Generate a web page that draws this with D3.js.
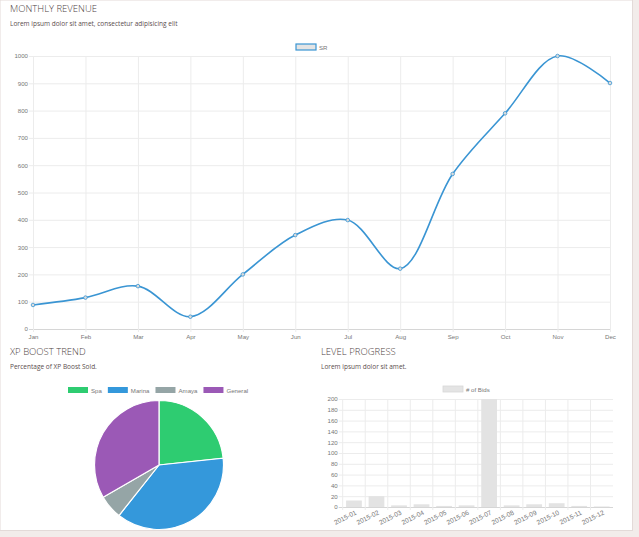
<!DOCTYPE html>
<html>
<head>
<meta charset="utf-8">
<script src="https://cdn.jsdelivr.net/npm/d3@7"></script>
<style>
  html, body { margin: 0; padding: 0; background: #f2ecea; }
  svg { display: block; }
  .title { font-family: 'Open Sans', sans-serif; font-weight: 300; font-size: 9.5px; fill: #4f4343; }
  .sub { font-family: 'Open Sans', sans-serif; font-size: 6.5px; fill: #5a4d4d; }
  .tick text, .lbl { font-family: 'Liberation Sans', Arial, sans-serif; font-size: 6.1px; fill: #777; }
  .rot { font-size: 6.6px; }
</style>
</head>
<body>
<svg id="chart" width="639" height="537"></svg>
<script>
'use strict';

// monthly revenue line
var months = ['Jan','Feb','Mar','Apr','May','Jun','Jul','Aug','Sep','Oct','Nov','Dec'];
var revenue = [88, 115, 157, 45, 200, 344, 399, 221, 568, 790, 1000, 901];
var revenueTicks = [0,100,200,300,400,500,600,700,800,900,1000];

// xp boost pie
var boostNames = ['Spa', 'Marina', 'Amaya', 'General'];
var boostValues = [35, 56, 9, 50];
var boostColors = ['#2ecc71', '#3498db', '#95a5a6', '#9b59b6'];

// level progress bars
var bidMonths = ['2015-01','2015-02','2015-03','2015-04','2015-05','2015-06',
  '2015-07','2015-08','2015-09','2015-10','2015-11','2015-12'];
var bids = [12, 20, 3, 5, 2, 3, 200, 3, 5, 7, 2, 1];
var bidTicks = [0,20,40,60,80,100,120,140,160,180,200];

var svg = d3.select('#chart');
svg.append('rect')
  .attr('x', 0).attr('y', 0)
  .attr('width', 632.5).attr('height', 530.5)
  .attr('fill', '#fff')
  .attr('stroke', '#e3dad8');

function heading(x, y, title, sub) {
  svg.append('text').attr('class', 'title').attr('x', x).attr('y', y).text(title);
  svg.append('text').attr('class', 'sub').attr('x', x).attr('y', y + 14).text(sub);
}

function styleAxis(g) {
  g.select('.domain').remove();
  g.selectAll('.tick line').attr('stroke', '#ececec');
}

// ---- line chart
heading(10, 12, 'MONTHLY REVENUE', 'Lorem ipsum dolor sit amet, consectetur adipisicing elit');

var lx = d3.scalePoint().domain(months).range([33, 610]);
var ly = d3.scaleLinear().domain([0, 1000]).range([329, 56]);

svg.append('g')
  .attr('transform', 'translate(33,0)')
  .call(d3.axisLeft(ly).tickValues(revenueTicks).tickFormat(d3.format('d')).tickSize(-577).tickPadding(5))
  .call(styleAxis)
  .call(g => g.selectAll('.tick line').attr('x1', -4))
  .call(g => g.selectAll('.tick').filter(d => d === 0).select('line').attr('stroke', '#d6d6d6'));

svg.append('g')
  .attr('transform', 'translate(0,329)')
  .call(d3.axisBottom(lx).tickSize(-273).tickPadding(6))
  .call(styleAxis)
  .call(g => g.selectAll('.tick line').attr('y1', 3));

svg.append('path')
  .datum(revenue)
  .attr('fill', 'none')
  .attr('stroke', '#3a95d3')
  .attr('stroke-width', 1.6)
  .attr('d', d3.line()
    .x((d, i) => lx(months[i]))
    .y(d => ly(d))
    .curve(d3.curveCatmullRom.alpha(0.5)));

svg.append('g').selectAll('circle')
  .data(revenue)
  .join('circle')
    .attr('cx', (d, i) => lx(months[i]))
    .attr('cy', d => ly(d))
    .attr('r', 1.8)
    .attr('fill', '#dcdcdc')
    .attr('stroke', '#3a95d3')
    .attr('stroke-width', 0.8);

var lineLegend = svg.append('g').attr('transform', 'translate(296,44)');
lineLegend.append('rect')
  .attr('width', 20).attr('height', 6)
  .attr('fill', '#e4e4e4').attr('stroke', '#3a95d3').attr('stroke-width', 1.2);
lineLegend.append('text').attr('class', 'lbl').attr('x', 23).attr('y', 5.5).text('SR');

// ---- pie chart
heading(10, 355, 'XP BOOST TREND', 'Percentage of XP Boost Sold.');

var pieLegend = svg.append('g').attr('transform', 'translate(68,387)');
var legX = 0;
boostNames.forEach(function(name, i) {
  var item = pieLegend.append('g').attr('transform', 'translate(' + legX + ',0)');
  item.append('rect').attr('width', 20).attr('height', 6).attr('fill', boostColors[i]);
  var t = item.append('text').attr('class', 'lbl').attr('x', 23).attr('y', 5.5).text(name);
  legX += 23 + t.node().getComputedTextLength() + 6;
});

var arcs = d3.pie().sort(null)(boostValues);
var arc = d3.arc().innerRadius(0).outerRadius(64.5);
svg.append('g')
  .attr('transform', 'translate(159,465)')
  .selectAll('path')
  .data(arcs)
  .join('path')
    .attr('d', arc)
    .attr('fill', (d, i) => boostColors[i])
    .attr('stroke', '#fff')
    .attr('stroke-width', 1.2);

// ---- bar chart
heading(321, 355, 'LEVEL PROGRESS', 'Lorem ipsum dolor sit amet.');

var bx = d3.scaleBand().domain(bidMonths).range([342.7, 613]);
var by = d3.scaleLinear().domain([0, 200]).range([507, 399]);

svg.append('g')
  .attr('transform', 'translate(342.7,0)')
  .call(d3.axisLeft(by).tickValues(bidTicks).tickSize(-270.3).tickPadding(5))
  .call(styleAxis)
  .call(g => g.selectAll('.tick line').attr('x1', -4))
  .call(g => g.selectAll('.tick').filter(d => d === 0).select('line').attr('stroke', '#d6d6d6'));

// vertical grid at band edges
svg.append('g').selectAll('line')
  .data(bidMonths)
  .join('line')
    .attr('x1', d => bx(d)).attr('x2', d => bx(d))
    .attr('y1', 399).attr('y2', 510)
    .attr('stroke', '#ececec');

svg.append('g').selectAll('rect')
  .data(bids)
  .join('rect')
    .attr('x', (d, i) => bx(bidMonths[i]) + bx.bandwidth() * 0.15)
    .attr('width', bx.bandwidth() * 0.7)
    .attr('y', d => by(d))
    .attr('height', d => by(0) - by(d))
    .attr('fill', '#e3e3e3');

svg.append('g').selectAll('text')
  .data(bidMonths)
  .join('text')
    .attr('class', 'lbl rot')
    .attr('text-anchor', 'end')
    .attr('transform', d => 'translate(' + (bx(d) + bx.bandwidth() / 2 + 3) + ',514) rotate(-27)')
    .text(d => d);

var barLegend = svg.append('g').attr('transform', 'translate(443,386)');
barLegend.append('rect')
  .attr('width', 20).attr('height', 6)
  .attr('fill', '#e4e4e4').attr('stroke', '#d8d8d8').attr('stroke-width', 0.8);
barLegend.append('text').attr('class', 'lbl').attr('x', 23).attr('y', 5.5).text('# of Bids');
</script>
</body>
</html>
